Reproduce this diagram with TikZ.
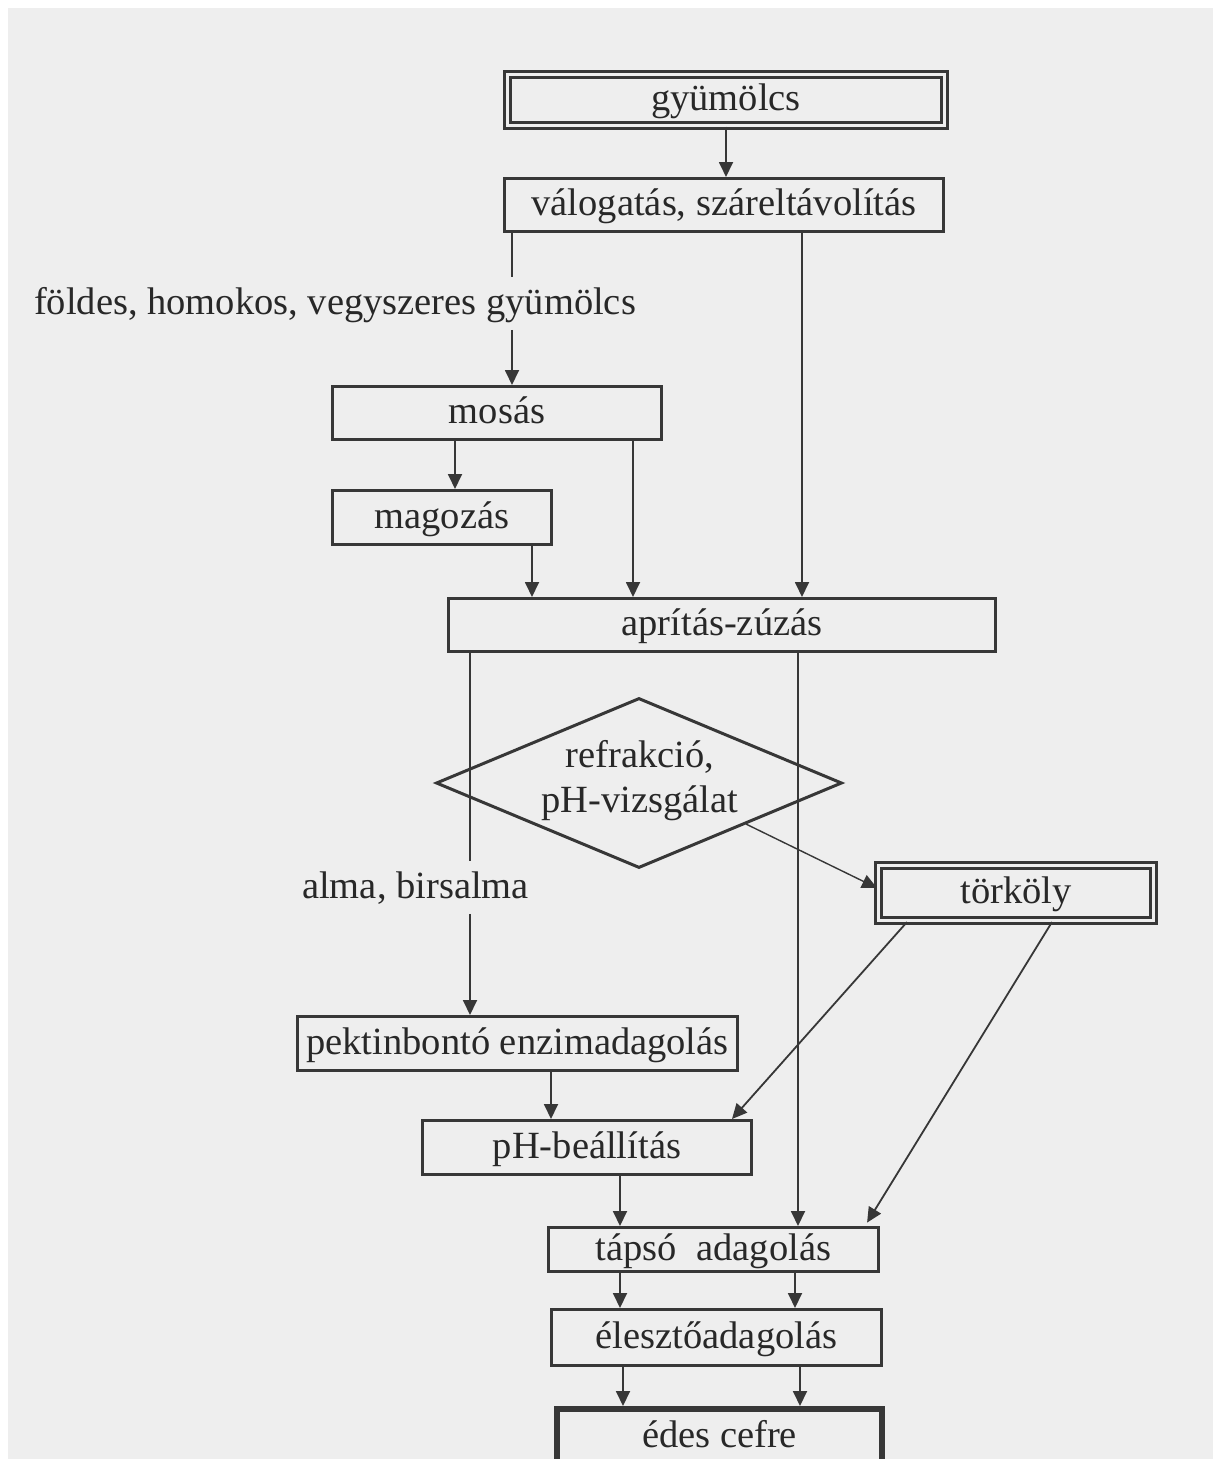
\documentclass[tikz,border=0pt]{standalone}
\usepackage{fontspec}
\setmainfont{Liberation Serif}
\usetikzlibrary{arrows.meta,shapes.geometric}
\definecolor{bg}{RGB}{238,238,238}
\definecolor{ink}{RGB}{55,55,55}
\definecolor{txt}{RGB}{40,40,40}
\begin{document}
\begin{tikzpicture}[x=1pt,y=-1pt,
  every node/.style={font=\fontsize{38.5}{45}\selectfont, text=txt},
  box/.style={draw=ink, line width=3pt, rectangle, inner sep=0pt, text height=28.9pt, text depth=7.7pt},
  dbox/.style={box, double=bg, double distance=3pt},
  lbl/.style={inner xsep=0pt, inner ysep=8pt, text height=28.9pt, text depth=7.7pt},
  conn/.style={draw=ink, line width=1.8pt, -{Triangle[length=15pt,width=14pt]}},
  plain/.style={draw=ink, line width=1.8pt}]
\useasboundingbox (0,0) rectangle (1213,1459);
\fill[white] (0,0) rectangle (1213,1459);
\fill[bg] (8,8) rectangle (1213,1459);
\clip (0,0) rectangle (1213,1459);

% nodes
\node[dbox, minimum width=437, minimum height=51] (gyum) at (726,99.5) {gyümölcs};
\node[box, minimum width=439, minimum height=53] (val) at (724,205) {válogatás, száreltávolítás};
\node[lbl, anchor=base] (lab1) at (335,314) {földes, homokos, vegyszeres gyümölcs};
\node[box, minimum width=329, minimum height=53] (mosas) at (497,413) {mosás};
\node[box, minimum width=219, minimum height=54] (magoz) at (442,517.5) {magozás};
\node[box, minimum width=547, minimum height=53] (apr) at (722,625) {aprítás-zúzás};
\node[draw=ink, line width=3pt, diamond, minimum width=406, minimum height=170, inner sep=0pt] (diam) at (639,783) {};
\node[align=center, inner sep=0pt] (diamtxt) at (640,781) {refrakció,\\pH-vizsgálat};
\node[dbox, minimum width=275, minimum height=55] (tork) at (1016,893) {törköly};
\node[lbl, anchor=base] (lab2) at (415.5,898) {alma, birsalma};
\node[box, minimum width=440, minimum height=54] (pekt) at (517.5,1043.5) {pektinbontó enzimadagolás};
\node[box, minimum width=329, minimum height=54] (phbe) at (587,1147.5) {pH-beállítás};
\node[box, minimum width=330, minimum height=44] (taps) at (713.5,1249.5) {tápsó\ \ adagolás};
\node[box, minimum width=330, minimum height=56] (elesz) at (716.5,1337.5) {élesztőadagolás};
\node[box, line width=6pt, minimum width=325, minimum height=55] (edes) at (719.5,1436.5) {édes cefre};

% column helpers
\coordinate (c455) at (455,0);
\coordinate (c470) at (470,0);
\coordinate (c512) at (512,0);
\coordinate (c532) at (532,0);
\coordinate (c551) at (551,0);
\coordinate (c620) at (620,0);
\coordinate (c623) at (623,0);
\coordinate (c633) at (633,0);
\coordinate (c795) at (795,0);
\coordinate (c798) at (798,0);
\coordinate (c800) at (800,0);
\coordinate (c802) at (802,0);

% connectors
\draw[conn] (gyum) -- (gyum |- val.north);
\draw[plain] (c512 |- val.south) -- (c512 |- lab1.north);
\draw[conn] (c512 |- lab1.south) -- (c512 |- mosas.north);
\draw[conn] (c802 |- val.south) -- (c802 |- apr.north);
\draw[conn] (c455 |- mosas.south) -- (c455 |- magoz.north);
\draw[conn] (c633 |- mosas.south) -- (c633 |- apr.north);
\draw[conn] (c532 |- magoz.south) -- (c532 |- apr.north);
\draw[plain] (c470 |- apr.south) -- (c470 |- lab2.north);
\draw[conn] (c470 |- lab2.south) -- (c470 |- pekt.north);
\draw[conn] (c798 |- apr.south) -- (c798 |- taps.north);
\draw[conn, line width=1.4pt] (diam.-21) -- ([yshift=5pt]tork.west);
\draw[conn] ([xshift=-109pt]tork.south) -- ([xshift=145pt]phbe.north);
\draw[conn, shorten >=4pt] ([xshift=36pt]tork.south) -- ([xshift=151.5pt]taps.north);
\draw[conn] (c551 |- pekt.south) -- (c551 |- phbe.north);
\draw[conn] (c620 |- phbe.south) -- (c620 |- taps.north);
\draw[conn] (c620 |- taps.south) -- (c620 |- elesz.north);
\draw[conn] (c795 |- taps.south) -- (c795 |- elesz.north);
\draw[conn] (c623 |- elesz.south) -- (c623 |- edes.north);
\draw[conn] (c800 |- elesz.south) -- (c800 |- edes.north);
\end{tikzpicture}
\end{document}
